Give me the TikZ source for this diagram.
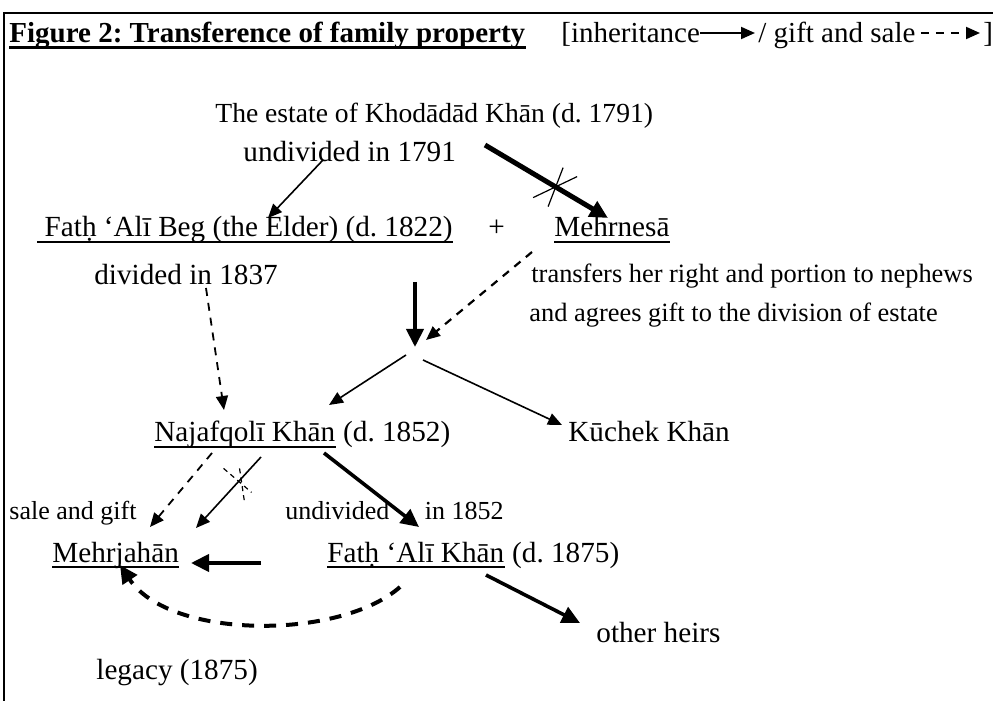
\documentclass[tikz,border=0pt]{standalone}
\usepackage{fontspec}
\setmainfont{Liberation Serif}
\usetikzlibrary{arrows.meta, positioning, calc}
\frenchspacing

\begin{document}
\begin{tikzpicture}[
		x=0.5pt, y=-0.5pt,
		font=\fontsize{14.6}{17}\selectfont,
		every node/.style={inner sep=0pt, anchor=base west},
		legend/.style={font=\fontsize{14.5}{17}\selectfont},
		small/.style={font=\fontsize{13.2}{16}\selectfont},
		note/.style={font=\fontsize{13}{15}\selectfont},
		ul/.style={append after command={([yshift=-2.5pt]\tikzlastnode.base west) edge[-, line width=0.8pt] ([yshift=-2.5pt]\tikzlastnode.base east)}},
		ulbold/.style={append after command={([yshift=-2.4pt]\tikzlastnode.base west) edge[-, line width=1.5pt] ([yshift=-2.4pt]\tikzlastnode.base east)}},
		inh/.style={-{Triangle[length=7pt, width=6pt]}, line width=0.8pt},
		heavy/.style={-{Triangle[length=9pt, width=8.5pt]}, line width=2pt},
		gift/.style={-{Triangle[length=7pt, width=6pt]}, line width=0.9pt, dash pattern=on 4pt off 3.5pt},
		cut/.style={line width=0.6pt}
		]
		\useasboundingbox (0,0) rectangle (993,701);
		
		% Frame
		\draw[line width=1pt] (993,13) -- (4,13) -- (4,701);
		
		% Title and legend
		\node[ulbold, font=\fontsize{14.5}{17}\selectfont\bfseries] (title) at (9,43) {Figure 2: Transference of family property};
		\node[legend] (leg1) at (561,43) {[inheritance};
		\node[legend] (leg2) at (758,43) {/ gift and sale};
		\node[legend] (leg3) at (983,43) {]};
		\draw[inh, line width=1pt] ([yshift=5pt]leg1.base east) -- ([shift={(-3,-10)}]leg2.base west);
		\draw[gift, line width=1pt] ([shift={(5,-10)}]leg2.base east) -- ([shift={(-3,-10)}]leg3.base west);
		
		% Khodadad Khan
		\node[font=\fontsize{13.8}{17}\selectfont] (estate) at (215,123) {The estate of Khodādād Khān (d. 1791)};
		\node (undiv) at (243,162) {undivided in 1791};
		
		% Fath Ali Beg and Mehrnesa
		\node[ul] (fathbeg) at (37,237) {~Fatḥ ‘Alī Beg (the Elder) (d. 1822)};
		\node (plus) at (488,237) {+};
		\node[ul] (mehrnesa) at (554,237) {Mehrnesā};
		\node (divided) at (94,285) {divided in 1837};
		\node[small] (transfers) at (531,283) {transfers her right and portion to nephews};
		\node[small] (agrees) at (529,322) {and agrees gift to the division of estate};
		\coordinate (split) at (415,350);
		
		% Nephews
		\node[ul] (najaf) at (154,442) {Najafqolī Khān};
		\node[base right=3.6pt of najaf] (najafd) {(d. 1852)};
		\node (kuchek) at (568,442) {Kūchek Khān};
		
		% Next generation
		\node[note] (salegift) at (9,520) {sale and gift};
		\node[note] (undiv2) at (285,520) {undivided\hspace{14.5pt} in 1852};
		\node[ul] (mehrjahan) at (52,562) {Mehrjahān};
		\node[ul] (fathkhan) at (327,562) {Fatḥ ‘Alī Khān};
		\node[base right=3.6pt of fathkhan] (fathkhand) {(d. 1875)};
		\node (heirs) at (596,642) {other heirs};
		\node (legacy) at (96,680) {legacy (1875)};
		
		% Arrows
		\draw[inh] ([shift={(80,-2)}]undiv.base west) -- ([shift={(231,-19)}]fathbeg.base west);
		\draw[heavy, line width=2.5pt] ([shift={(270,22)}]estate.base west) -- ([shift={(54,-19)}]mehrnesa.base west) coordinate[pos=.57] (cut1);
		\draw[cut] (cut1) +(-22,11) -- +(22,-10) (cut1) +(-7,20) -- +(8,-19);
		
		\draw[gift] ([shift={(112,3)}]divided.base west) -- ([shift={(70,-32)}]najaf.base west);
		\draw[heavy] ([shift={(-73,45)}]plus.base west) -- ([yshift=1.5pt]split);
		\draw[gift, line width=1.1pt] ([shift={(-22,15)}]mehrnesa.base west) -- ([shift={(11,-10)}]split);
		\draw[inh] ([shift={(-9,5)}]split) -- ([shift={(175,-37)}]najaf.base west);
		\draw[inh] ([shift={(8,10)}]split) -- ([shift={(-6,-17)}]kuchek.base west);
		
		\draw[gift] ([shift={(58,11)}]najaf.base west) -- ([shift={(98,-35)}]mehrjahan.base west);
		\draw[inh] ([shift={(107,15)}]najaf.base west) -- ([shift={(144,-34)}]mehrjahan.base west) coordinate[pos=.33] (cut2);
		\draw[cut, dash pattern=on 2.5pt off 2pt] (cut2) +(-16,-12) -- +(12,12) (cut2) +(0,-12) -- +(5,22);
		\draw[heavy, line width=1.8pt] ([shift={(170,11)}]najaf.base west) -- ([shift={(92,-35)}]fathkhan.base west);
		
		\draw[heavy] ([shift={(-66,1)}]fathkhan.base west) -- ([shift={(139,1)}]mehrjahan.base west);
		\draw[heavy, dash pattern=on 6pt off 5pt] ([shift={(73,25)}]fathkhan.base west) .. controls +(-60,53) and +(50,75) .. ([shift={(68,3)}]mehrjahan.base west);
		\draw[heavy, line width=1.8pt] ([shift={(159,13)}]fathkhan.base west) -- ([shift={(-16,-19)}]heirs.base west);
		
	\end{tikzpicture}
\end{document}
